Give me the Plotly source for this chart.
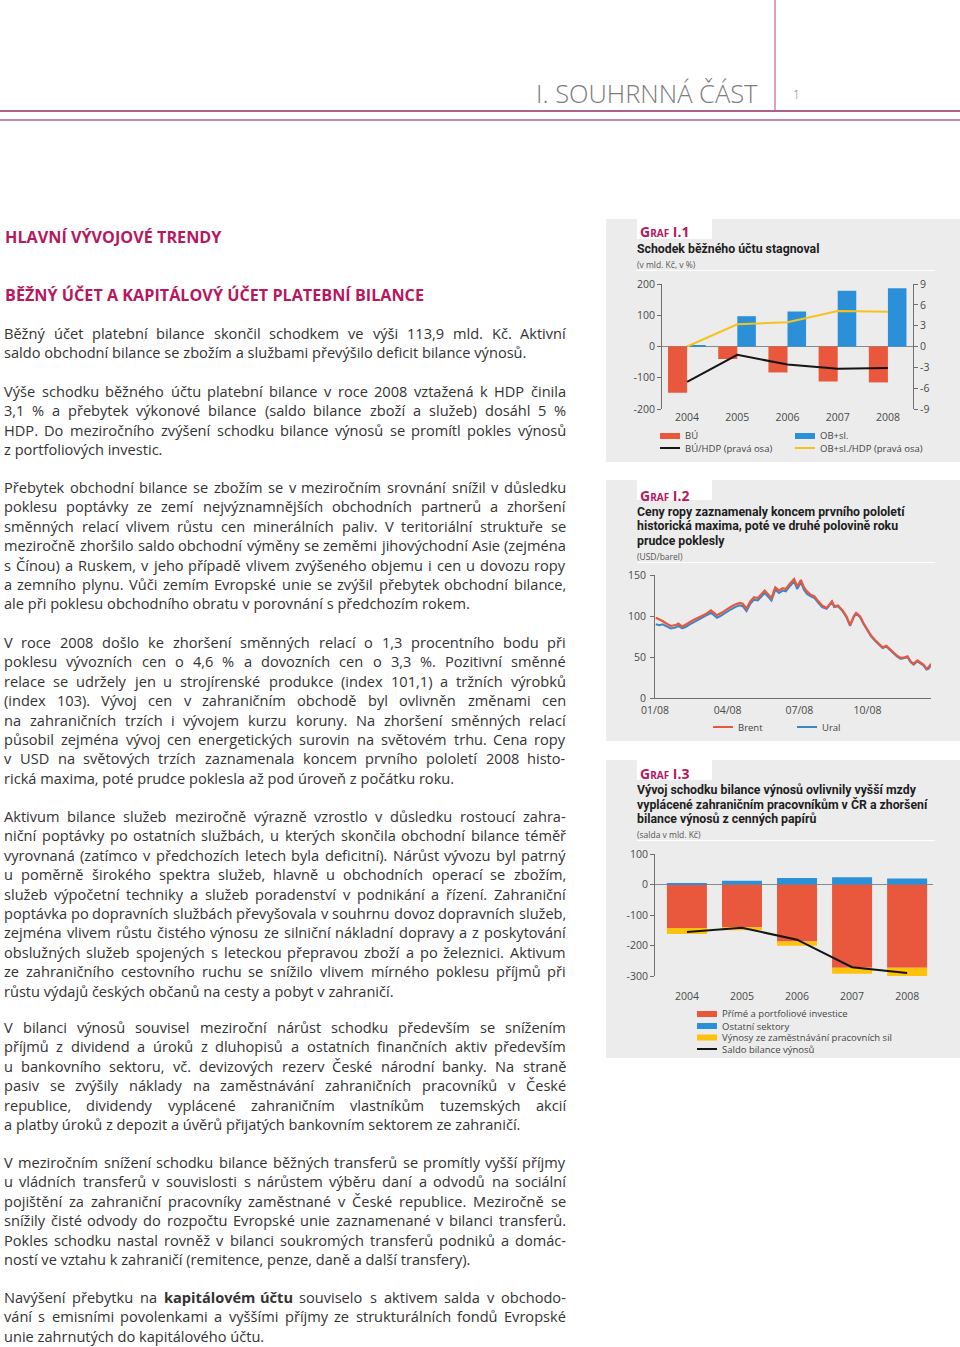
import unicodedata
import plotly.graph_objects as go

W, H = 960, 1347


def fx(p):
    return p / W


def fy(p):
    return 1 - p / H


# ---------------- DATA ----------------
# Graf I.1
years = ['2004', '2005', '2006', '2007', '2008']
bu = [-148, -40, -83, -112, -115]            # BÚ (mld. Kč)
ob_sl = [3, 97, 112, 178, 186]                # OB+sl. (mld. Kč)
bu_hdp = [-5.1, -1.2, -2.6, -3.2, -3.1]       # BÚ/HDP (%)
ob_sl_hdp = [0.0, 3.2, 3.5, 5.1, 5.0]         # OB+sl./HDP (%)
left_ticks1 = [-200, -100, 0, 100, 200]
right_ticks1 = [-9, -6, -3, 0, 3, 6, 9]

# Graf I.2 (USD/barel)
oil_dates = ['2008-01-02', '2008-01-07', '2008-01-11', '2008-01-16', '2008-01-22', '2008-01-28',
             '2008-02-01', '2008-02-06', '2008-02-11', '2008-02-16', '2008-02-22', '2008-02-27',
             '2008-03-03', '2008-03-09', '2008-03-15', '2008-03-19', '2008-03-23', '2008-03-29',
             '2008-04-04', '2008-04-10', '2008-04-16', '2008-04-22', '2008-04-26', '2008-05-01',
             '2008-05-06', '2008-05-11', '2008-05-16', '2008-05-21', '2008-05-25', '2008-05-30',
             '2008-06-03', '2008-06-08', '2008-06-13', '2008-06-18', '2008-06-22', '2008-06-27',
             '2008-07-03', '2008-07-07', '2008-07-12', '2008-07-16', '2008-07-20', '2008-07-25',
             '2008-07-30', '2008-08-04', '2008-08-09', '2008-08-15', '2008-08-22', '2008-08-25',
             '2008-08-30', '2008-09-05', '2008-09-10', '2008-09-15', '2008-09-20', '2008-09-23',
             '2008-09-28', '2008-10-03', '2008-10-08', '2008-10-13', '2008-10-18', '2008-10-23',
             '2008-10-28', '2008-11-02', '2008-11-06', '2008-11-11', '2008-11-16', '2008-11-21',
             '2008-11-26', '2008-11-30', '2008-12-04', '2008-12-08', '2008-12-13', '2008-12-17',
             '2008-12-21', '2008-12-25', '2008-12-28', '2008-12-31']
brent = [98, 96, 94, 91, 88, 89,
         91, 87, 90, 93, 96, 98,
         100, 103, 107, 104, 101, 104,
         108, 111, 114, 116, 115, 109,
         118, 123, 122, 127, 131, 126,
         122, 135, 131, 134, 133, 139,
         145, 136, 144, 135, 130, 126,
         124, 118, 113, 110, 118, 112,
         113, 107, 100, 89, 100, 104,
         100, 91, 84, 76, 71, 66,
         62, 64, 60, 56, 52, 49,
         50, 51, 45, 42, 46, 44,
         41, 36, 38, 42]
ural = [90, 89, 90, 88, 85, 86,
        88, 85, 87, 90, 93, 95,
        97, 100, 104, 101, 98, 101,
        105, 108, 111, 113, 112, 106,
        115, 120, 119, 124, 128, 123,
        119, 132, 128, 131, 130, 136,
        142, 133, 141, 132, 127, 124,
        122, 116, 111, 109, 117, 111,
        112, 106, 99, 88, 99, 103,
        99, 90, 83, 75, 70, 65,
        61, 63, 59, 55, 51, 48,
        49, 50, 44, 41, 45, 43,
        40, 35, 36, 41]
oil_tick_dates = ['2008-01-01', '2008-04-06', '2008-07-10', '2008-10-08']
oil_tick_labels = ['01/08', '04/08', '07/08', '10/08']
oil_y_ticks = [0, 50, 100, 150]

# Graf I.3 (salda v mld. Kč)
prime_inv = [-143, -140, -187, -273, -273]    # Přímé a portfoliové investice
other_sect = [2, 12, 21, 24, 20]              # Ostatní sektory
employment = [-19, -10, -14, -20, -36]        # Výnosy ze zaměstnávání pracovních sil
income_bal = [-156, -142, -181, -271, -290]   # Saldo bilance výnosů
left_ticks3 = [-300, -200, -100, 0, 100]

# ---------------- STYLE ----------------
RED = '#e9573c'
BLUE = '#2b90d8'
YELLOW = '#f8c21c'
YELLOW3 = '#fdc20c'
BLACK = '#151515'
PANEL = '#ececec'
MAGENTA = '#b8175e'
TEXT = '#3a3a3a'
AX = '#6f6f6f'
BODY_FONT = 'Open Sans, Noto Sans, sans-serif'
COND_FONT = 'Roboto, Lato, Noto Sans, sans-serif'
TICKFONT = dict(family=BODY_FONT, size=10.5, color='#4a4a4a')


def lbl(v):
    return [str(t) for t in v]


fig = go.Figure()

# ---- Graf I.1 ----
fig.add_trace(go.Bar(x=years, y=bu, xaxis='x', yaxis='y', marker=dict(color=RED, line_width=0),
                     width=0.38, offset=-0.38, name='BÚ'))
fig.add_trace(go.Bar(x=years, y=ob_sl, xaxis='x', yaxis='y', marker=dict(color=BLUE, line_width=0),
                     width=0.37, offset=0.0, name='OB+sl.'))
fig.add_trace(go.Scatter(x=years, y=bu_hdp, xaxis='x', yaxis='y2', mode='lines',
                         line=dict(color=BLACK, width=2), name='BÚ/HDP (pravá osa)'))
fig.add_trace(go.Scatter(x=years, y=ob_sl_hdp, xaxis='x', yaxis='y2', mode='lines',
                         line=dict(color=YELLOW, width=2), name='OB+sl./HDP (pravá osa)'))

# ---- Graf I.2 ----
fig.add_trace(go.Scatter(x=oil_dates, y=ural, xaxis='x2', yaxis='y3', mode='lines',
                         line=dict(color='#3b86c8', width=2), name='Ural'))
fig.add_trace(go.Scatter(x=oil_dates, y=brent, xaxis='x2', yaxis='y3', mode='lines',
                         line=dict(color='#e5593f', width=2.2), name='Brent'))

# ---- Graf I.3 ----
fig.add_trace(go.Bar(x=years, y=prime_inv, xaxis='x3', yaxis='y4', width=0.727,
                     marker=dict(color=RED, line_width=0), name='Přímé a portfoliové investice'))
fig.add_trace(go.Bar(x=years, y=other_sect, xaxis='x3', yaxis='y4', width=0.727,
                     marker=dict(color=BLUE, line_width=0), name='Ostatní sektory'))
fig.add_trace(go.Bar(x=years, y=employment, xaxis='x3', yaxis='y4', width=0.727,
                     marker=dict(color=YELLOW3, line_width=0),
                     name='Výnosy ze zaměstnávání pracovních sil'))
fig.add_trace(go.Scatter(x=years, y=income_bal, xaxis='x3', yaxis='y4', mode='lines',
                         line=dict(color=BLACK, width=2), name='Saldo bilance výnosů'))

axis_common = dict(showgrid=False, tickfont=TICKFONT, linecolor=AX, tickcolor=AX,
                   fixedrange=True, automargin=False)

fig.update_layout(
    width=W, height=H, autosize=False,
    margin=dict(l=0, r=0, t=0, b=0, pad=0, autoexpand=False),
    paper_bgcolor='white', plot_bgcolor='rgba(0,0,0,0)',
    barmode='relative', showlegend=False,
    font=dict(family=BODY_FONT, color=TEXT),
    # chart 1
    xaxis=dict(domain=[fx(662), fx(913)], anchor='y', type='category', range=[-0.5, 4.5],
               showline=False, ticks='', zeroline=False, **axis_common),
    yaxis=dict(domain=[fy(409), fy(284)], anchor='x', range=[-200, 200],
               tickvals=left_ticks1, ticktext=lbl(left_ticks1), ticks='outside', ticklen=4,
               showline=True, zeroline=True, zerolinecolor='#8a8a8a', zerolinewidth=1,
               **axis_common),
    yaxis2=dict(overlaying='y', side='right', anchor='x', range=[-9, 9],
                tickvals=right_ticks1, ticktext=lbl(right_ticks1), ticks='outside', ticklen=4,
                showline=True, zeroline=False, **axis_common),
    # chart 2
    xaxis2=dict(domain=[fx(655), fx(931)], anchor='y3', type='date',
                range=['2008-01-01', '2008-12-31'], tickvals=oil_tick_dates,
                ticktext=oil_tick_labels, showline=True, ticks='', zeroline=False,
                ticklabelstandoff=2, **axis_common),
    yaxis3=dict(domain=[fy(698.3), fy(575)], anchor='x2', range=[0, 150],
                tickvals=oil_y_ticks, ticktext=lbl(oil_y_ticks), ticks='outside', ticklen=4,
                showline=True, zeroline=False, ticklabelstandoff=2, **axis_common),
    # chart 3
    xaxis3=dict(domain=[fx(655), fx(933)], anchor='y4', type='category',
                range=[-0.58, 4.47], showline=False, ticks='', zeroline=False,
                ticklabelstandoff=12, **axis_common),
    yaxis4=dict(domain=[fy(976), fy(854)], anchor='x3', range=[-300, 100],
                tickvals=left_ticks3, ticktext=lbl(left_ticks3), ticks='outside', ticklen=4,
                showline=True, zeroline=True, zerolinecolor='#8a8a8a', zerolinewidth=1,
                **axis_common),
)

shapes = []
annots = []


def rect(x0, y0, x1, y1, color, layer='below'):
    shapes.append(dict(type='rect', xref='paper', yref='paper', x0=fx(x0), x1=fx(x1),
                       y0=fy(y1), y1=fy(y0), fillcolor=color, line=dict(width=0), layer=layer))


def hline(x0, x1, y, color, width, layer='below'):
    shapes.append(dict(type='line', xref='paper', yref='paper', x0=fx(x0), x1=fx(x1),
                       y0=fy(y), y1=fy(y), line=dict(color=color, width=width), layer=layer))


def vline(x, y0, y1, color, width):
    shapes.append(dict(type='line', xref='paper', yref='paper', x0=fx(x), x1=fx(x),
                       y0=fy(y0), y1=fy(y1), line=dict(color=color, width=width), layer='below'))


def text(x, y, s, size, color=TEXT, family=BODY_FONT, anchor='left', weight=None, pad=1):
    f = dict(size=size, color=color, family=family)
    if weight:
        f['weight'] = weight
    annots.append(dict(xref='paper', yref='paper', x=fx(x), y=fy(y), text=s, showarrow=False,
                       xanchor=anchor, yanchor='middle', align=anchor, font=f,
                       borderpad=pad, borderwidth=0))


# ---- page header ----
vline(775, 0, 111, '#c2417c', 1)
hline(0, 960, 111, '#a9648b', 2)
hline(0, 960, 120, '#a9648b', 1.5)
text(759, 93, 'I. SOUHRNNÁ ČÁST', 25.5, '#7d7d7d', anchor='right', weight=300)
text(792, 94, '1', 12, '#7d7d7d', weight=300)

# ---- chart panels ----
panels = [(219, 462, 232, ['Schodek běžného účtu stagnoval'], '(v mld. Kč, v %)', 'I.1'),
          (480, 741, 495, ['Ceny ropy zaznamenaly koncem prvního pololetí',
                           'historická maxima, poté ve druhé polovině roku',
                           'prudce poklesly'], '(USD/barel)', 'I.2'),
          (760, 1058, 773, ['Vývoj schodku bilance výnosů ovlivnily vyšší mzdy',
                            'vyplácené zahraničním pracovníkům v ČR a zhoršení',
                            'bilance výnosů z cenných papírů'], '(salda v mld. Kč)', 'I.3')]
for top, bottom, gy, tlines, sub, num in panels:
    rect(606, top, 960, bottom, PANEL)
    rect(637, top, 712, top + 20, 'white')
    text(639, gy, "<b>G<span style='font-size:10px'>RAF</span> %s</b>" % num, 14, MAGENTA)
    ty = gy + 17
    for ln in tlines:
        text(636, ty, '<b>%s</b>' % ln, 12.3, '#1e1e1e', COND_FONT)
        ty += 14.5
    text(636, ty + 1, sub, 8.5, '#555555')
    hline(637, 935, ty + 7, 'white', 1.2)

# ---- legends ----
LEGF = 9.5


def leg_bar(x, y, color, label):
    rect(x, y - 3, x + 20, y + 3, color, layer='above')
    text(x + 24, y, label, LEGF, '#444444')


def leg_line(x, y, color, label):
    hline(x, x + 20, y, color, 2, layer='above')
    text(x + 24, y, label, LEGF, '#444444')


leg_bar(660, 436, RED, 'BÚ')
leg_bar(795, 436, BLUE, 'OB+sl.')
leg_line(660, 448, BLACK, 'BÚ/HDP (pravá osa)')
leg_line(795, 448, YELLOW, 'OB+sl./HDP (pravá osa)')

leg_line(713, 727, '#e5593f', 'Brent')
leg_line(797, 727, '#3b86c8', 'Ural')

leg_bar(697, 1014, RED, 'Přímé a portfoliové investice')
leg_bar(697, 1026, BLUE, 'Ostatní sektory')
leg_bar(697, 1037.5, YELLOW3, 'Výnosy ze zaměstnávání pracovních sil')
leg_line(697, 1049, BLACK, 'Saldo bilance výnosů')

# ---- left column text ----
text(4, 237, '<b>HLAVNÍ VÝVOJOVÉ TRENDY</b>', 16.2, MAGENTA)
text(4, 295, '<b>BĚŽNÝ ÚČET A KAPITÁLOVÝ ÚČET PLATEBNÍ BILANCE</b>', 16.2, MAGENTA)

paragraphs = [
    (333, ['Běžný účet platební bilance skončil schodkem ve výši 113,9 mld. Kč. Aktivní',
           'saldo obchodní bilance se zbožím a službami převýšilo deficit bilance výnosů.']),
    (391, ['Výše schodku běžného účtu platební bilance v roce 2008 vztažená k HDP činila',
           '3,1 % a přebytek výkonové bilance (saldo bilance zboží a služeb) dosáhl 5 %',
           'HDP. Do meziročního zvýšení schodku bilance výnosů se promítl pokles výnosů',
           'z portfoliových investic.']),
    (487, ['Přebytek obchodní bilance se zbožím se v meziročním srovnání snížil v důsledku',
           'poklesu poptávky ze zemí nejvýznamnějších obchodních partnerů a zhoršení',
           'směnných relací vlivem růstu cen minerálních paliv. V teritoriální struktuře se',
           'meziročně zhoršilo saldo obchodní výměny se zeměmi jihovýchodní Asie (zejména',
           's Čínou) a Ruskem, v jeho případě vlivem zvýšeného objemu i cen u dovozu ropy',
           'a zemního plynu. Vůči zemím Evropské unie se zvýšil přebytek obchodní bilance,',
           'ale při poklesu obchodního obratu v porovnání s předchozím rokem.']),
    (642, ['V roce 2008 došlo ke zhoršení směnných relací o 1,3 procentního bodu při',
           'poklesu vývozních cen o 4,6 % a dovozních cen o 3,3 %. Pozitivní směnné',
           'relace se udržely jen u strojírenské produkce (index 101,1) a tržních výrobků',
           '(index 103). Vývoj cen v zahraničním obchodě byl ovlivněn změnami cen',
           'na zahraničních trzích i vývojem kurzu koruny. Na zhoršení směnných relací',
           'působil zejména vývoj cen energetických surovin na světovém trhu. Cena ropy',
           'v USD na světových trzích zaznamenala koncem prvního pololetí 2008 histo-',
           'rická maxima, poté prudce poklesla až pod úroveň z počátku roku.']),
    (816, ['Aktivum bilance služeb meziročně výrazně vzrostlo v důsledku rostoucí zahra-',
           'niční poptávky po ostatních službách, u kterých skončila obchodní bilance téměř',
           'vyrovnaná (zatímco v předchozích letech byla deficitní). Nárůst vývozu byl patrný',
           'u poměrně širokého spektra služeb, hlavně u obchodních operací se zbožím,',
           'služeb výpočetní techniky a služeb poradenství v podnikání a řízení. Zahraniční',
           'poptávka po dopravních službách převyšovala v souhrnu dovoz dopravních služeb,',
           'zejména vlivem růstu čistého výnosu ze silniční nákladní dopravy a z poskytování',
           'obslužných služeb spojených s leteckou přepravou zboží a po železnici. Aktivum',
           'ze zahraničního cestovního ruchu se snížilo vlivem mírného poklesu příjmů při',
           'růstu výdajů českých občanů na cesty a pobyt v zahraničí.']),
    (1027, ['V bilanci výnosů souvisel meziroční nárůst schodku především se snížením',
            'příjmů z dividend a úroků z dluhopisů a ostatních finančních aktiv především',
            'u bankovního sektoru, vč. devizových rezerv České národní banky. Na straně',
            'pasiv se zvýšily náklady na zaměstnávání zahraničních pracovníků v České',
            'republice, dividendy vyplácené zahraničním vlastníkům tuzemských akcií',
            'a platby úroků z depozit a úvěrů přijatých bankovním sektorem ze zahraničí.']),
    (1162, ['V meziročním snížení schodku bilance běžných transferů se promítly vyšší příjmy',
            'u vládních transferů v souvislosti s nárůstem výběru daní a odvodů na sociální',
            'pojištění za zahraniční pracovníky zaměstnané v České republice. Meziročně se',
            'snížily čisté odvody do rozpočtu Evropské unie zaznamenané v bilanci transferů.',
            'Pokles schodku nastal rovněž v bilanci soukromých transferů podniků a domác-',
            'ností ve vztahu k zahraničí (remitence, penze, daně a další transfery).']),
    (1297, ['Navýšení přebytku na <b>kapitálovém účtu</b> souviselo s aktivem salda v obchodo-',
            'vání s emisními povolenkami a vyššími příjmy ze strukturálních fondů Evropské',
            'unie zahrnutých do kapitálového účtu.']),
]

# approximate Open Sans advance widths (units per em = 2048), used only to
# distribute the spare space of justified lines between words
ADV = {' ': 532, '!': 565, '(': 606, ')': 606, ',': 502, '-': 659, '.': 545, '%': 1686,
       ':': 545, ';': 545, '/': 752,
       'A': 1296, 'B': 1327, 'C': 1292, 'D': 1493, 'E': 1139, 'F': 1057, 'G': 1491,
       'H': 1511, 'I': 571, 'J': 547, 'K': 1257, 'L': 1073, 'M': 1849, 'N': 1544,
       'O': 1595, 'P': 1233, 'Q': 1595, 'R': 1266, 'S': 1124, 'T': 1139, 'U': 1511,
       'V': 1225, 'W': 1849, 'X': 1165, 'Y': 1141, 'Z': 1163,
       'a': 1139, 'b': 1255, 'c': 975, 'd': 1255, 'e': 1149, 'f': 694, 'g': 1122,
       'h': 1257, 'i': 518, 'j': 518, 'k': 1075, 'l': 518, 'm': 1905, 'n': 1257,
       'o': 1237, 'p': 1255, 'q': 1255, 'r': 836, 's': 977, 't': 723, 'u': 1257,
       'v': 1026, 'w': 1593, 'x': 1073, 'y': 1028, 'z': 977}
for dgt in '0123456789':
    ADV[dgt] = 1171
ADV['ď'] = 1400
ADV['ť'] = 820


def est_width(word, size, bold):
    tot = 0
    for ch in word:
        if ch in ADV:
            tot += ADV[ch]
        else:
            base = unicodedata.normalize('NFD', ch)[0]
            tot += ADV.get(base, 1150)
    return tot / 2048.0 * size * (1.07 if bold else 1.0)


BODY_SIZE = 14.6
LEFT, RIGHT = 4, 566
for y0, lines in paragraphs:
    for i, ln in enumerate(lines):
        y = y0 + i * 19.4
        last = (i == len(lines) - 1)
        if last:
            text(LEFT, y, ln, BODY_SIZE, '#333333', pad=0)
            continue
        words = []
        bold = False
        for tok in ln.split(' '):
            if tok.startswith('<b>'):
                bold = True
                tok = tok[3:]
            end = tok.endswith('</b>')
            if end:
                tok = tok[:-4]
            words.append((tok, bold))
            if end:
                bold = False
        widths = [est_width(w, BODY_SIZE, b) for w, b in words]
        gap = (RIGHT - LEFT - sum(widths)) / (len(words) - 1)
        x = LEFT
        for k, (w, b) in enumerate(words):
            s = '<b>%s</b>' % w if b else w
            if k == len(words) - 1:
                text(RIGHT, y, s, BODY_SIZE, '#333333', anchor='right', pad=0)
            else:
                text(x, y, s, BODY_SIZE, '#333333', pad=0)
            x += widths[k] + gap

fig.update_layout(shapes=shapes, annotations=annots)
fig.write_html('out.html', config={'displayModeBar': False},
               post_script="document.body.style.margin='0px';"
                           "document.body.style.overflow='hidden';")
